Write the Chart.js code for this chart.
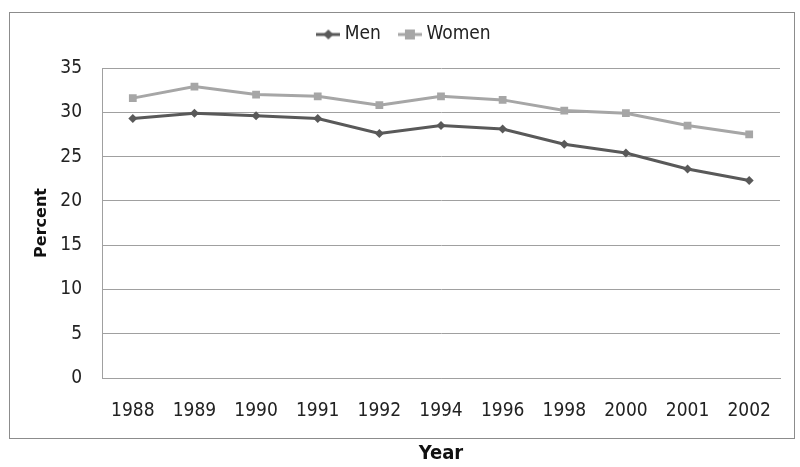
<!DOCTYPE html>
<html>
<head>
<meta charset="utf-8">
<script src="https://cdn.jsdelivr.net/npm/chart.js@4/dist/chart.umd.min.js"></script>
<style>
  html, body { margin: 0; padding: 0; background: #fff; }
  #wrap { width: 800px; height: 467px; }
</style>
</head>
<body>
<div id="wrap"><canvas id="myChart" width="800" height="467"></canvas></div>
<script>
// data
const years = ['1988', '1989', '1990', '1991', '1992', '1994', '1996', '1998', '2000', '2001', '2002'];
const men = [29.3, 29.9, 29.6, 29.3, 27.6, 28.5, 28.1, 26.4, 25.4, 23.6, 22.3];
const women = [31.6, 32.9, 32.0, 31.8, 30.8, 31.8, 31.4, 30.2, 29.9, 28.5, 27.5];
const yTicks = [0, 5, 10, 15, 20, 25, 30, 35];

const menColor = '#595959';
const womenColor = '#a6a6a6';
const tickFont = "'DejaVu Sans Condensed', 'Liberation Sans Narrow', 'DejaVu Sans', sans-serif";

// legend marker = short line with the point in the middle
function legendIcon(color, shape) {
  const c = document.createElement('canvas');
  c.width = 24; c.height = 12;
  const g = c.getContext('2d');
  g.strokeStyle = color;
  g.lineWidth = 3;
  g.beginPath(); g.moveTo(0, 6); g.lineTo(24, 6); g.stroke();
  g.fillStyle = color;
  if (shape === 'diamond') {
    g.beginPath(); g.moveTo(12, 1); g.lineTo(17, 6); g.lineTo(12, 11); g.lineTo(7, 6); g.closePath(); g.fill();
  } else {
    g.fillRect(7, 1, 10, 10);
  }
  return c;
}

// white background + frame around the chart (title "Year" sits outside it)
const framePlugin = {
  id: 'frame',
  beforeLayout(chart) {
    // a bit more room under the legend
    const lg = chart.legend;
    if (lg && !lg._patched) {
      const fit = lg.fit;
      lg.fit = function () { fit.call(this); this.height += 14; };
      lg._patched = true;
    }
  },
  beforeDraw(chart) {
    const ctx = chart.ctx;
    ctx.save();
    ctx.fillStyle = '#fff';
    ctx.fillRect(0, 0, chart.width, chart.height);
    ctx.strokeStyle = '#8c8c8c';
    ctx.lineWidth = 1;
    ctx.strokeRect(9.5, 12.5, 785, 426);
    ctx.restore();
  }
};

const ctx = document.getElementById('myChart').getContext('2d');
const myChart = new Chart(ctx, {
  type: 'line',
  data: {
    labels: years,
    datasets: [
      {
        label: 'Men',
        data: men,
        borderColor: menColor,
        backgroundColor: menColor,
        borderWidth: 3,
        pointStyle: 'rectRot',
        pointRadius: 4.5,
        pointBorderWidth: 0,
        tension: 0,
      },
      {
        label: 'Women',
        data: women,
        borderColor: womenColor,
        backgroundColor: womenColor,
        borderWidth: 3,
        pointStyle: 'rect',
        pointRadius: 5.5,
        pointBorderWidth: 0,
        tension: 0,
      },
    ],
  },
  options: {
    responsive: false,
    animation: false,
    layout: { padding: { left: 32, right: 20, top: 3, bottom: 1 } },
    plugins: {
      tooltip: { enabled: false },
      legend: {
        position: 'top',
        labels: {
          usePointStyle: true,
          pointStyleWidth: 14,
          color: '#222',
          font: { family: tickFont, size: 19 },
          padding: 22,
          generateLabels(chart) {
            return [
              { text: 'Men', pointStyle: legendIcon(menColor, 'diamond'), fontColor: '#222', datasetIndex: 0, lineWidth: 0 },
              { text: 'Women', pointStyle: legendIcon(womenColor, 'square'), fontColor: '#222', datasetIndex: 1, lineWidth: 0 },
            ];
          },
        },
      },
    },
    scales: {
      x: {
        offset: true,
        afterFit(scale) { scale.height = 88; },
        grid: { display: false, drawTicks: false },
        border: { display: true, color: '#a0a0a0' },
        ticks: { color: '#222', font: { family: tickFont, size: 19 }, padding: 22, maxRotation: 0, autoSkip: false },
        title: {
          display: true,
          text: 'Year',
          color: '#111',
          font: { family: tickFont, size: 20, weight: 'bold' },
          padding: { top: 0, bottom: 0 },
        },
      },
      y: {
        min: 0,
        max: 35,
        afterFit(scale) { scale.width = 70; },
        afterBuildTicks(axis) { axis.ticks = yTicks.map(v => ({ value: v })); },
        grid: { color: '#a0a0a0', drawTicks: false },
        border: { display: true, color: '#a0a0a0' },
        ticks: { color: '#222', font: { family: tickFont, size: 19 }, padding: 20 },
        title: {
          display: true,
          text: 'Percent',
          color: '#111',
          font: { family: "'DejaVu Sans', sans-serif", size: 16, weight: 'bold' },
          padding: { top: 0, bottom: 0 },
        },
      },
    },
  },
  plugins: [framePlugin],
});
</script>
</body>
</html>
